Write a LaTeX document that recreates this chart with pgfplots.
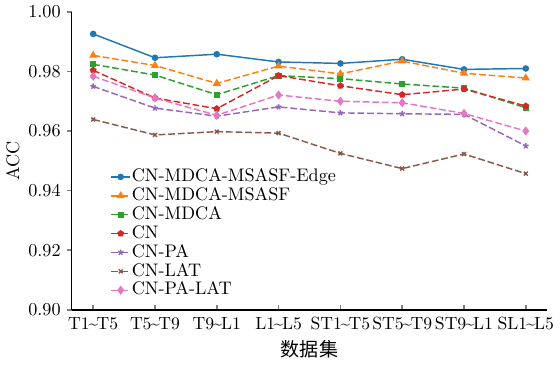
\documentclass[border=0pt]{standalone}
\usepackage{fontspec}
\usepackage{pgfplots}
\pgfplotsset{compat=1.18}
\newfontfamily\cjk{Noto Sans CJK SC}
\definecolor{c1}{HTML}{1F77B4}
\definecolor{c2}{HTML}{FF7F0E}
\definecolor{c3}{HTML}{2CA02C}
\definecolor{c4}{HTML}{D62728}
\definecolor{c5}{HTML}{9467BD}
\definecolor{c6}{HTML}{8C564B}
\definecolor{c7}{HTML}{E377C2}
\newcommand{\tl}{{\kern-0.8pt\textasciitilde\kern-0.8pt}}
\begin{document}
\begin{tikzpicture}
\begin{axis}[
  scale only axis,
  width=262pt, height=164pt,
  xmin=-0.35, xmax=7.35,
  ymin=0.90, ymax=1.00,
  axis x line*=bottom, axis y line*=left,
  axis line style={-, line width=0.8pt},
  xtick={0,1,2,3,4,5,6,7},
  xticklabels={T1\tl T5,T5\tl T9,T9\tl L1,L1\tl L5,ST1\tl T5,ST5\tl T9,ST9\tl L1,SL1\tl L5},
  ytick={0.90,0.92,0.94,0.96,0.98,1.00},
  yticklabel style={font=\fontsize{10}{12}\selectfont, /pgf/number format/fixed, /pgf/number format/fixed zerofill, /pgf/number format/precision=2},
  x tick style={line width=0.8pt}, y tick style={line width=0.8pt},
  xtick align=inside, ytick align=outside,
  major tick length=2.5pt,
  xticklabel style={yshift=-0.5pt, font=\fontsize{9.7}{12}\selectfont},
  xlabel={{\cjk\fontsize{10.5}{12}\selectfont 数据集}},
  ylabel={ACC},
  xlabel style={yshift=1pt},
  ylabel style={yshift=-2pt},
  every axis plot/.append style={line width=0.8pt},
  legend style={draw=none, fill=none, at={(0.07,0.49)}, anchor=north west,
    font=\fontsize{10}{12}\selectfont,
    nodes={inner sep=0.6pt, text height=7pt, text depth=1.8pt},
    row sep=0.4pt},
  legend cell align=left,
  legend image code/.code={\draw[mark repeat=2,mark phase=2,#1] plot coordinates {(0cm,0cm) (0.18cm,0cm) (0.36cm,0cm)};},
]
\addplot[c1, solid, mark=*, mark size=1.4pt] coordinates {
(0,0.9926) (1,0.9846) (2,0.9858) (3,0.9832) (4,0.9827) (5,0.9841) (6,0.9807) (7,0.9810)};
\addlegendentry{CN-MDCA-MSASF-Edge}
\addplot[c2, dash pattern=on 3.7pt off 1.6pt, mark=triangle*, mark size=1.8pt, mark options={solid}] coordinates {
(0,0.9854) (1,0.9820) (2,0.9760) (3,0.9818) (4,0.9792) (5,0.9835) (6,0.9794) (7,0.9778)};
\addlegendentry{CN-MDCA-MSASF}
\addplot[c3, dash pattern=on 3.7pt off 1.6pt, mark=square*, mark size=1.3pt, mark options={solid}] coordinates {
(0,0.9824) (1,0.9788) (2,0.9722) (3,0.9786) (4,0.9776) (5,0.9758) (6,0.9744) (7,0.9678)};
\addlegendentry{CN-MDCA}
\addplot[c4, dash pattern=on 3.7pt off 1.6pt, mark=pentagon*, mark size=1.5pt, mark options={solid}] coordinates {
(0,0.9804) (1,0.9711) (2,0.9675) (3,0.9786) (4,0.9752) (5,0.9722) (6,0.9741) (7,0.9684)};
\addlegendentry{CN}
\addplot[c5, dash pattern=on 3.7pt off 1.6pt, mark=star, mark size=1.6pt, mark options={solid}] coordinates {
(0,0.9750) (1,0.9677) (2,0.9650) (3,0.9681) (4,0.9661) (5,0.9658) (6,0.9656) (7,0.9550)};
\addlegendentry{CN-PA}
\addplot[c6, dash pattern=on 3.7pt off 1.6pt, mark=x, mark size=1.5pt, mark options={solid}] coordinates {
(0,0.9639) (1,0.9587) (2,0.9598) (3,0.9593) (4,0.9525) (5,0.9474) (6,0.9523) (7,0.9457)};
\addlegendentry{CN-LAT}
\addplot[c7, dash pattern=on 3.7pt off 1.6pt, mark=diamond*, mark size=1.9pt, mark options={solid}] coordinates {
(0,0.9784) (1,0.9711) (2,0.9653) (3,0.9721) (4,0.9700) (5,0.9695) (6,0.9659) (7,0.9600)};
\addlegendentry{CN-PA-LAT}
\end{axis}
\end{tikzpicture}
\end{document}
